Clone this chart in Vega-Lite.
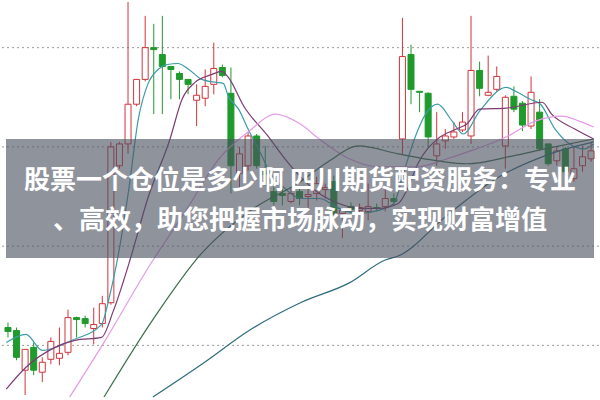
{
  "$schema": "https://vega.github.io/schema/vega-lite/v6.json",
  "width": 600,
  "height": 400,
  "autosize": {"type": "fit", "contains": "padding"},
  "padding": 0,
  "background": "white",
  "config": {"view": {"stroke": null}},
  "datasets": {
    "candles": [
      {"i":0,"o":70,"c":66,"h":75,"l":60},{"i":1,"o":67,"c":40,"h":70,"l":37},{"i":2,"o":27,"c":48,"h":48,"l":2},{"i":3,"o":50,"c":27,"h":55,"l":22},{"i":4,"o":25,"c":35,"h":40,"l":15},{"i":5,"o":38,"c":56,"h":60,"l":33},{"i":6,"o":39,"c":44,"h":70,"l":32},{"i":7,"o":45,"c":80,"h":88,"l":42},{"i":8,"o":80,"c":78,"h":81,"l":60},{"i":9,"o":79,"c":74,"h":82,"l":70},
      {"i":10,"o":69,"c":73,"h":90,"l":53},{"i":11,"o":74,"c":94,"h":102,"l":70},{"i":12,"o":95,"c":252,"h":257,"l":93},{"i":13,"o":233,"c":255,"h":257,"l":230},{"i":14,"o":255,"c":295,"h":398,"l":245},{"i":15,"o":295,"c":320,"h":320,"l":293},{"i":16,"o":320,"c":352,"h":384,"l":318},{"i":17,"o":352,"c":350,"h":376,"l":285},{"i":18,"o":345,"c":333,"h":384,"l":285},{"i":19,"o":333,"c":330,"h":333,"l":300},
      {"i":20,"o":326,"c":320,"h":328,"l":300},{"i":21,"o":320,"c":315,"h":320,"l":305},{"i":22,"o":299,"c":304,"h":315,"l":273},{"i":23,"o":301,"c":313,"h":330,"l":293},{"i":24,"o":315,"c":331,"h":357,"l":305},{"i":25,"o":332,"c":324,"h":335,"l":322},{"i":26,"o":306,"c":233,"h":332,"l":205},{"i":27,"o":225,"c":245,"h":252,"l":210},{"i":28,"o":233,"c":263,"h":267,"l":228},{"i":29,"o":263,"c":233,"h":265,"l":230},
      {"i":30,"o":228,"c":224,"h":253,"l":213},{"i":31,"o":207,"c":197,"h":213,"l":193},{"i":32,"o":205,"c":203,"h":210,"l":193},{"i":33,"o":197,"c":205,"h":210,"l":195},{"i":34,"o":207,"c":200,"h":210,"l":193},{"i":35,"o":202,"c":204,"h":210,"l":190},{"i":36,"o":205,"c":215,"h":222,"l":198},{"i":37,"o":209,"c":211,"h":215,"l":200},{"i":38,"o":217,"c":185,"h":223,"l":182},{"i":39,"o":185,"c":188,"h":190,"l":160},
      {"i":40,"o":192,"c":189,"h":196,"l":185},{"i":41,"o":188,"c":191,"h":195,"l":184},{"i":42,"o":187,"c":192,"h":215,"l":178},{"i":43,"o":191,"c":190,"h":195,"l":187},{"i":44,"o":192,"c":200,"h":210,"l":187},{"i":45,"o":200,"c":197,"h":205,"l":193},{"i":46,"o":260,"c":343,"h":382,"l":245},{"i":47,"o":345,"c":310,"h":355,"l":295},{"i":48,"o":308,"c":307,"h":308,"l":287},{"i":49,"o":306,"c":262,"h":307,"l":252},
      {"i":50,"o":243,"c":255,"h":287,"l":233},{"i":51,"o":258,"c":263,"h":270,"l":250},{"i":52,"o":262,"c":267,"h":277,"l":260},{"i":53,"o":269,"c":277,"h":287,"l":267},{"i":54,"o":263,"c":329,"h":384,"l":255},{"i":55,"o":329,"c":311,"h":338,"l":303},{"i":56,"o":304,"c":307,"h":344,"l":303},{"i":57,"o":310,"c":323,"h":333,"l":308},{"i":58,"o":253,"c":302,"h":304,"l":230},{"i":59,"o":303,"c":290,"h":313,"l":287},
      {"i":60,"o":296,"c":274,"h":298,"l":268},{"i":61,"o":273,"c":307,"h":323,"l":270},{"i":62,"o":287,"c":250,"h":300,"l":248},{"i":63,"o":255,"c":235,"h":255,"l":233},{"i":64,"o":238,"c":248,"h":253,"l":233},{"i":65,"o":250,"c":227,"h":252,"l":223},{"i":66,"o":220,"c":230,"h":252,"l":217},{"i":67,"o":233,"c":242,"h":253,"l":227},{"i":68,"o":240,"c":248,"h":257,"l":237}
    ],
    "ma": [
      {"s":"MA5","i":-0.2,"p":55},{"s":"MA5","i":2.1,"p":63},{"s":"MA5","i":4.0,"p":47},{"s":"MA5","i":7.4,"p":57},{"s":"MA5","i":10.9,"p":73},{"s":"MA5","i":11.8,"p":100},{"s":"MA5","i":12.9,"p":145},{"s":"MA5","i":14.1,"p":210},{"s":"MA5","i":15.2,"p":280},{"s":"MA5","i":16.3,"p":315},{"s":"MA5","i":17.5,"p":330},{"s":"MA5","i":18.6,"p":335},{"s":"MA5","i":19.8,"p":336},{"s":"MA5","i":21.1,"p":330},{"s":"MA5","i":22.6,"p":320},{"s":"MA5","i":24.3,"p":317},{"s":"MA5","i":25.1,"p":316},{"s":"MA5","i":25.7,"p":303},{"s":"MA5","i":26.9,"p":290},{"s":"MA5","i":28.0,"p":270},{"s":"MA5","i":29.5,"p":245},{"s":"MA5","i":30.6,"p":225},{"s":"MA5","i":32.3,"p":210},{"s":"MA5","i":34.1,"p":200},{"s":"MA5","i":36.3,"p":200},{"s":"MA5","i":38.6,"p":190},{"s":"MA5","i":40.9,"p":185},{"s":"MA5","i":43.2,"p":188},{"s":"MA5","i":45.0,"p":195},{"s":"MA5","i":46.1,"p":225},{"s":"MA5","i":47.4,"p":260},{"s":"MA5","i":48.7,"p":285},{"s":"MA5","i":50.1,"p":295},{"s":"MA5","i":51.8,"p":278},{"s":"MA5","i":53.1,"p":265},{"s":"MA5","i":55.0,"p":288},{"s":"MA5","i":58.1,"p":312},{"s":"MA5","i":59.2,"p":308},{"s":"MA5","i":60.9,"p":300},{"s":"MA5","i":62.1,"p":295},{"s":"MA5","i":63.8,"p":270},{"s":"MA5","i":65.5,"p":255},{"s":"MA5","i":67.2,"p":250},{"s":"MA5","i":68.3,"p":255},
      {"s":"MA10","i":-0.2,"p":8},{"s":"MA10","i":2.1,"p":30},{"s":"MA10","i":5.5,"p":50},{"s":"MA10","i":7.8,"p":57},{"s":"MA10","i":10.9,"p":60},{"s":"MA10","i":12.3,"p":87},{"s":"MA10","i":14.3,"p":140},{"s":"MA10","i":16.3,"p":200},{"s":"MA10","i":18.9,"p":260},{"s":"MA10","i":20.3,"p":300},{"s":"MA10","i":21.8,"p":317},{"s":"MA10","i":23.8,"p":325},{"s":"MA10","i":24.9,"p":328},{"s":"MA10","i":25.7,"p":322},{"s":"MA10","i":27.5,"p":293},{"s":"MA10","i":30.3,"p":263},{"s":"MA10","i":32.3,"p":240},{"s":"MA10","i":34.1,"p":222},{"s":"MA10","i":36.3,"p":205},{"s":"MA10","i":38.6,"p":195},{"s":"MA10","i":40.9,"p":190},{"s":"MA10","i":43.2,"p":190},{"s":"MA10","i":45.5,"p":195},{"s":"MA10","i":46.6,"p":210},{"s":"MA10","i":47.8,"p":235},{"s":"MA10","i":50.1,"p":260},{"s":"MA10","i":52.3,"p":270},{"s":"MA10","i":53.5,"p":275},{"s":"MA10","i":55.0,"p":290},{"s":"MA10","i":58.1,"p":291},{"s":"MA10","i":62.3,"p":297},{"s":"MA10","i":63.4,"p":285},{"s":"MA10","i":66.1,"p":270},{"s":"MA10","i":68.3,"p":260},
      {"s":"MA20","i":7.2,"p":0},{"s":"MA20","i":11.2,"p":55},{"s":"MA20","i":16.7,"p":135},{"s":"MA20","i":20.7,"p":187},{"s":"MA20","i":24.6,"p":240},{"s":"MA20","i":28.0,"p":267},{"s":"MA20","i":31.2,"p":285},{"s":"MA20","i":34.1,"p":275},{"s":"MA20","i":36.3,"p":260},{"s":"MA20","i":39.8,"p":240},{"s":"MA20","i":43.2,"p":232},{"s":"MA20","i":47.8,"p":232},{"s":"MA20","i":51.2,"p":240},{"s":"MA20","i":54.6,"p":250},{"s":"MA20","i":58.1,"p":262},{"s":"MA20","i":61.5,"p":278},{"s":"MA20","i":64.6,"p":283},{"s":"MA20","i":66.6,"p":278},{"s":"MA20","i":68.3,"p":272},
      {"s":"MA30","i":11.2,"p":0},{"s":"MA30","i":16.9,"p":78},{"s":"MA30","i":22.6,"p":145},{"s":"MA30","i":28.3,"p":188},{"s":"MA30","i":34.1,"p":217},{"s":"MA30","i":37.5,"p":238},{"s":"MA30","i":40.9,"p":253},{"s":"MA30","i":45.5,"p":245},{"s":"MA30","i":50.1,"p":238},{"s":"MA30","i":53.5,"p":235},{"s":"MA30","i":58.9,"p":243},{"s":"MA30","i":62.6,"p":250},{"s":"MA30","i":68.3,"p":260},
      {"s":"MA60","i":16.9,"p":0},{"s":"MA60","i":22.6,"p":33},{"s":"MA60","i":28.3,"p":68},{"s":"MA60","i":34.1,"p":95},{"s":"MA60","i":39.8,"p":115},{"s":"MA60","i":44.0,"p":138},{"s":"MA60","i":45.5,"p":142},{"s":"MA60","i":51.2,"p":183},{"s":"MA60","i":56.9,"p":220},{"s":"MA60","i":62.6,"p":243},{"s":"MA60","i":68.3,"p":257}
    ],
    "grid": [{"p":352},{"p":252},{"p":152},{"p":52}],
    "banner": [{"lo":140,"hi":260}],
    "caption": [
      {"line":"股票一个仓位是多少啊 四川期货配资服务：专业","p":218},
      {"line":"、高效，助您把握市场脉动，实现财富增值","p":177}
    ]
  },
  "layer": [
    {
      "data": {"name": "grid"},
      "mark": {"type": "rule", "color": "#9a9a9a", "strokeDash": [2, 3], "strokeWidth": 1},
      "encoding": {
        "y": {"field": "p", "type": "quantitative", "scale": {"domain": [0, 400], "nice": false, "zero": false}, "axis": null}
      }
    },
    {
      "data": {"name": "candles"},
      "mark": {"type": "rule", "strokeWidth": 1},
      "encoding": {
        "x": {"field": "i", "type": "quantitative", "scale": {"domain": [-0.23, 68.34], "nice": false, "zero": false}, "axis": null},
        "y": {"field": "l", "type": "quantitative"},
        "y2": {"field": "h"},
        "color": {"condition": {"test": "datum.c >= datum.o", "value": "#d2333a"}, "value": "#1f9a2d"}
      }
    },
    {
      "data": {"name": "candles"},
      "mark": {"type": "bar", "size": 6, "strokeWidth": 1},
      "encoding": {
        "x": {"field": "i", "type": "quantitative"},
        "y": {"field": "o", "type": "quantitative"},
        "y2": {"field": "c"},
        "fill": {"condition": {"test": "datum.c >= datum.o", "value": "#ffffff"}, "value": "#1f9a2d"},
        "stroke": {"condition": {"test": "datum.c >= datum.o", "value": "#d2333a"}, "value": "#1f9a2d"}
      }
    },
    {
      "data": {"name": "ma"},
      "mark": {"type": "line", "strokeWidth": 1.2, "interpolate": "monotone"},
      "encoding": {
        "x": {"field": "i", "type": "quantitative"},
        "y": {"field": "p", "type": "quantitative"},
        "detail": {"field": "s"},
        "color": {"field": "s", "type": "nominal", "legend": null,
          "scale": {"domain": ["MA5", "MA10", "MA20", "MA30", "MA60"], "range": ["#3b9da8", "#7d3a74", "#e49ae6", "#3d6e48", "#2e6c7c"]}}
      }
    },
    {
      "data": {"name": "banner"},
      "mark": {"type": "rect", "color": "#4a5060", "opacity": 0.62},
      "encoding": {
        "x": {"datum": -0.23, "type": "quantitative"},
        "x2": {"datum": 68.34},
        "y": {"field": "lo", "type": "quantitative"},
        "y2": {"field": "hi"}
      }
    },
    {
      "data": {"name": "caption"},
      "mark": {"type": "text", "font": "Noto Sans CJK SC", "fontWeight": "bold", "fontSize": 26, "color": "#ffffff", "align": "center", "baseline": "middle"},
      "encoding": {
        "x": {"datum": 34.055, "type": "quantitative"},
        "y": {"field": "p", "type": "quantitative"},
        "text": {"field": "line"}
      }
    }
  ]
}
